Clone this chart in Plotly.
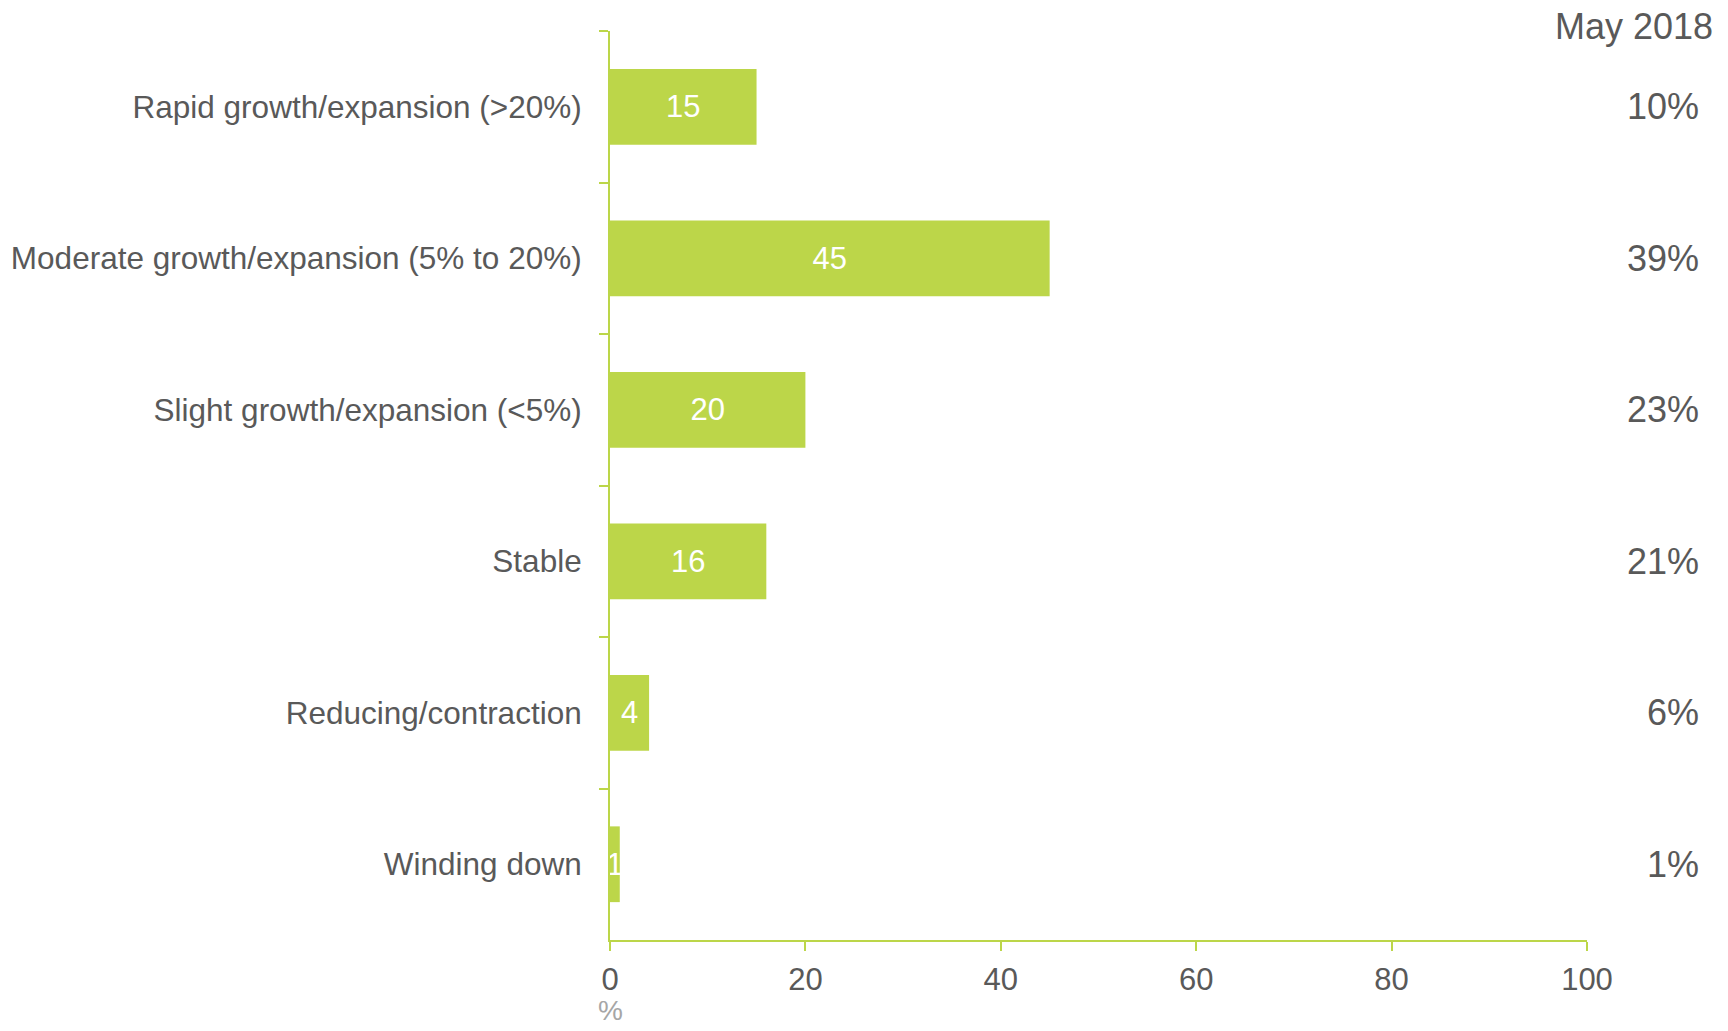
import plotly.graph_objects as go

categories = [
    "Rapid growth/expansion (>20%)",
    "Moderate growth/expansion (5% to 20%)",
    "Slight growth/expansion (<5%)",
    "Stable",
    "Reducing/contraction",
    "Winding down",
]
values = [15, 45, 20, 16, 4, 1]
may2018_labels = ["10%", "39%", "23%", "21%", "6%", "1%"]
x_ticks = [0, 20, 40, 60, 80, 100]

GREEN = "#bcd649"
TEXT = "#595959"
FONT = "Liberation Sans, Arial, sans-serif"

fig = go.Figure()
fig.add_trace(go.Bar(
    y=categories, x=values, orientation="h",
    marker=dict(color=GREEN, line=dict(width=0)),
    width=0.5,
    text=[str(v) for v in values],
    textposition="inside", insidetextanchor="middle",
    textfont=dict(color="white", size=31, family=FONT),
    hoverinfo="skip",
))

annotations = []
for cat, lab in zip(categories, may2018_labels):
    annotations.append(dict(
        x=1.1167, xref="paper", y=cat, yref="y", text=lab, showarrow=False,
        xanchor="right", yanchor="middle",
        font=dict(size=36, color=TEXT, family=FONT),
    ))
annotations.append(dict(
    x=1.131, xref="paper", y=1.005, yref="paper", text="May 2018", showarrow=False,
    xanchor="right", yanchor="middle",
    font=dict(size=36, color=TEXT, family=FONT),
))
annotations.append(dict(
    x=0, xref="x", y=-0.078, yref="paper", text="%", showarrow=False,
    xanchor="center", yanchor="middle",
    font=dict(size=28, color="#a6a6a6", family=FONT),
))

fig.update_layout(
    width=1712, height=1015,
    margin=dict(l=601.6, r=133.3, t=23, b=83, autoexpand=False),
    paper_bgcolor="white", plot_bgcolor="white",
    showlegend=False,
    bargap=0.5,
    uniformtext=dict(minsize=31, mode="show"),
    annotations=annotations,
    xaxis=dict(
        range=[0, 100], tickvals=x_ticks, ticktext=[str(t) for t in x_ticks],
        showgrid=False, zeroline=False,
        showline=True, linecolor=GREEN, linewidth=2,
        ticks="outside", ticklen=9, tickwidth=2, tickcolor=GREEN,
        tickfont=dict(size=31, color=TEXT, family=FONT),
        ticklabelstandoff=2,
        fixedrange=True,
    ),
    yaxis=dict(
        categoryorder="array", categoryarray=categories, autorange="reversed",
        showgrid=False, zeroline=False,
        showline=True, linecolor=GREEN, linewidth=2,
        ticks="outside", tickson="boundaries", ticklen=9, tickwidth=2, tickcolor=GREEN,
        tickfont=dict(size=31.5, color=TEXT, family=FONT),
        ticklabelstandoff=20,
        fixedrange=True,
    ),
)

fig.write_html("out.html")
